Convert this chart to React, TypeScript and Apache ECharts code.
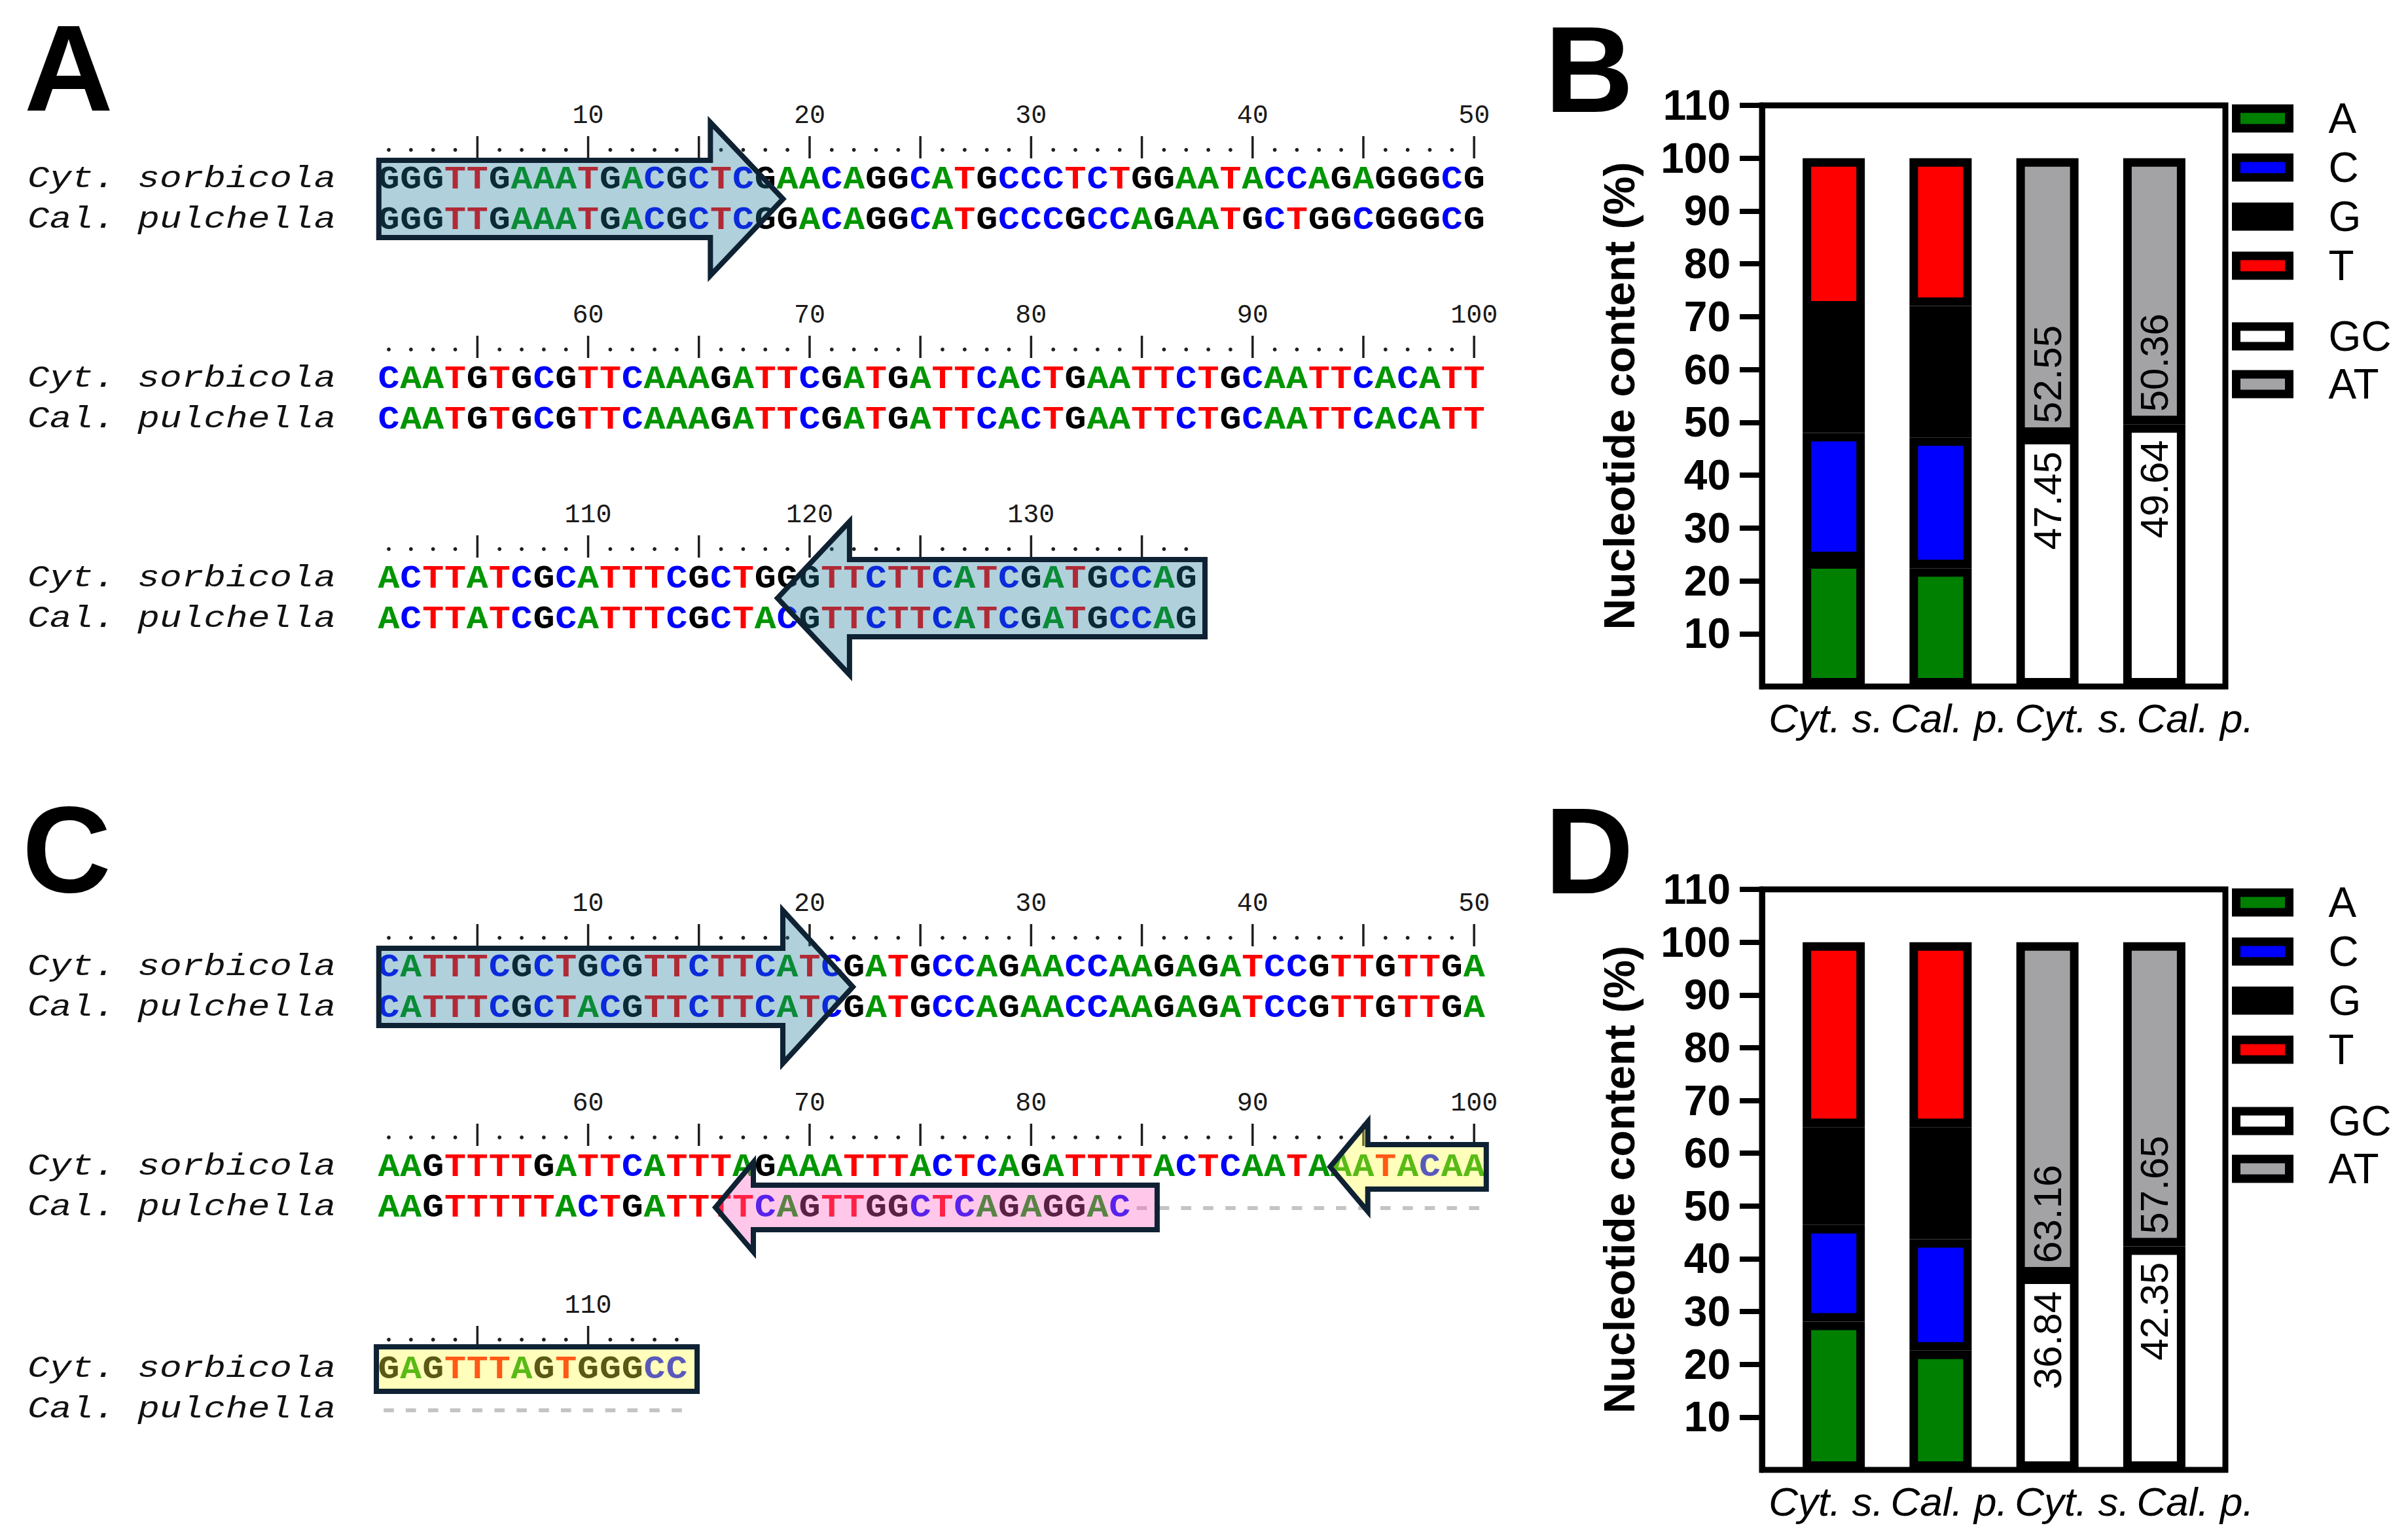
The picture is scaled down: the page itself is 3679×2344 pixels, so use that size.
import React, { useEffect, useRef } from "react";
import * as echarts from "echarts";

const WIDTH = 3679;
const HEIGHT = 2344;

// ---------- Panels A / C : sequence alignments (one string per block of 50 columns) ----------
const A_CYT = [
  "GGGTTGAAATGACGCTCGAACAGGCATGCCCTCTGGAATACCAGAGGGCG",
  "CAATGTGCGTTCAAAGATTCGATGATTCACTGAATTCTGCAATTCACATT",
  "ACTTATCGCATTTCGCTGGGTTCTTCATCGATGCCAG",
];
const A_CAL = [
  "GGGTTGAAATGACGCTCGGACAGGCATGCCCGCCAGAATGCTGGCGGGCG",
  "CAATGTGCGTTCAAAGATTCGATGATTCACTGAATTCTGCAATTCACATT",
  "ACTTATCGCATTTCGCTACGTTCTTCATCGATGCCAG",
];
const C_CYT = [
  "CATTTCGCTGCGTTCTTCATCGATGCCAGAACCAAGAGATCCGTTGTTGA",
  "AAGTTTTGATTCATTTAGAAATTTACTCAGATTTTACTCAATAAATACAA",
  "GAGTTTAGTGGGCC",
];
const C_CAL = [
  "CATTTCGCTACGTTCTTCATCGATGCCAGAACCAAGAGATCCGTTGTTGA",
  "AAGTTTTTACTGATTTTCAGTTGGCTCAGAGGAC----------------",
  "--------------",
];
const SPECIES = ["Cyt. sorbicola", "Cal. pulchella"];

// ---------- Panels B / D : nucleotide content (%) ----------
const CATEGORIES = ["Cyt. s.", "Cal. p.", "Cyt. s.", "Cal. p."];
const NUCLEOTIDES = ["A", "C", "G", "T"];
const GROUPS = ["GC", "AT"];
const B_A = [23.9, 22.4];
const B_C = [24.1, 24.75];
const B_G = [23.35, 24.89];
const B_T = [28.65, 27.96];
const B_GC = [47.45, 49.64];
const B_AT = [52.55, 50.36];
const D_A = [28.1, 22.6];
const D_C = [18.3, 21.1];
const D_G = [18.54, 21.25];
const D_T = [35.06, 35.05];
const D_GC = [36.84, 42.35];
const D_AT = [63.16, 57.65];
const Y_TICKS = [10, 20, 30, 40, 50, 60, 70, 80, 90, 100, 110];

// ---------- styling ----------
const SANS = '"Liberation Sans", Arial, Helvetica, sans-serif';
const MONO = '"Liberation Mono", "Courier New", monospace';
const NUC_COLORS: Record<string, string> = {
  A: "#009600",
  C: "#0000ff",
  G: "#000000",
  T: "#ff0000",
  "-": "#c4c4c4",
};
const BAR_COLORS: Record<string, string> = {
  A: "#008000",
  C: "#0000ff",
  G: "#000000",
  T: "#ff0000",
  GC: "#ffffff",
  AT: "#a3a3a6",
};
const BLUE_FILL = "rgba(29,121,155,0.35)";
const YELLOW_FILL = "rgba(255,255,60,0.35)";
const PINK_FILL = "rgba(255,98,197,0.35)";

// layout of the alignment panels
const SEQ_X0 = 594;
const SEQ_DX = 33.84;
const ROW_OFFSETS = [98, 160];
const A_BLOCK_Y = [177, 482, 787];
const C_BLOCK_Y = [1381, 1686, 1995];
const colX = (i: number) => SEQ_X0 + i * SEQ_DX;
const edgeX = (u: number) => SEQ_X0 - SEQ_DX / 2 + u * SEQ_DX;

type Highlight = { block: number; rows: string; from: number; to: number; tip: number | null; fill: string };
const A_HIGHLIGHTS: Highlight[] = [
  { block: 0, rows: "both", from: 0.05, to: 15.02, tip: 18.3, fill: BLUE_FILL },
  { block: 2, rows: "both", from: 21.3, to: 37.35, tip: 18.05, fill: BLUE_FILL },
];
const C_HIGHLIGHTS: Highlight[] = [
  { block: 0, rows: "both", from: 0.05, to: 18.29, tip: 21.45, fill: BLUE_FILL },
  { block: 1, rows: "cyt", from: 44.7, to: 50.05, tip: 43.0, fill: YELLOW_FILL },
  { block: 1, rows: "cal", from: 16.96, to: 35.19, tip: 15.25, fill: PINK_FILL },
  { block: 2, rows: "cyt", from: -0.06, to: 14.42, tip: null, fill: YELLOW_FILL },
];

function textEl(text: string, x: number, y: number, font: string, fill: string, align: string, extra: any = {}) {
  return {
    type: "text",
    x,
    y,
    z: 10,
    silent: true,
    ...extra,
    style: {
      text,
      font,
      fill,
      align,
      verticalAlign: "middle",
      textAlign: align,
      textVerticalAlign: "middle",
    },
  };
}

function alignmentGraphics(cyt: string[], cal: string[], blockY: number[], highlights: Highlight[]) {
  const els: any[] = [];
  let start = 1;
  blockY.forEach((B, bi) => {
    const rows = [cyt[bi], cal[bi]];
    const n = rows[0].length;
    for (let i = 0; i < n; i++) {
      const pos = start + i;
      const x = colX(i);
      if (pos % 5 === 0) {
        els.push({
          type: "line",
          z: 10,
          silent: true,
          shape: { x1: x, y1: B + 31, x2: x, y2: B + 65 },
          style: { stroke: "#1e1e1e", lineWidth: 3.5 },
        });
      } else {
        els.push({
          type: "circle",
          z: 10,
          silent: true,
          shape: { cx: x, cy: B + 52, r: 2.9 },
          style: { fill: "#1e1e1e" },
        });
      }
      if (pos % 10 === 0) els.push(textEl(String(pos), x, B, `40px ${MONO}`, "#1a1a1a", "center"));
    }
    rows.forEach((seq, ri) => {
      const y = B + ROW_OFFSETS[ri];
      els.push(textEl(SPECIES[ri], 42, y - 2, `italic 46px ${MONO}`, "#111", "left", { scaleX: 1.22 }));
      for (let i = 0; i < seq.length; i++) {
        const ch = seq[i];
        els.push(textEl(ch, colX(i), y, `bold 50px ${MONO}`, NUC_COLORS[ch] || "#000", "center", { scaleX: 1.1 }));
      }
    });
    start += n;
  });
  highlights.forEach((h) => {
    const B = blockY[h.block];
    let top: number, bot: number, headTop: number, headBot: number, cy: number;
    if (h.rows === "both") {
      top = B + 68;
      bot = B + 186;
      headTop = B + 10;
      headBot = B + 244;
      cy = B + 127;
    } else {
      const ry = B + ROW_OFFSETS[h.rows === "cyt" ? 0 : 1];
      top = ry - 35;
      bot = ry + 33;
      headTop = ry - 70;
      headBot = ry + 67;
      cy = ry - 1;
    }
    const L = edgeX(h.from);
    const R = edgeX(h.to);
    let pts: number[][];
    if (h.tip == null) {
      pts = [[L, top], [R, top], [R, bot], [L, bot]];
    } else if (h.tip > h.to) {
      const T = edgeX(h.tip);
      pts = [[L, top], [R, top], [R, headTop], [T, cy], [R, headBot], [R, bot], [L, bot]];
    } else {
      const T = edgeX(h.tip);
      pts = [[R, top], [L, top], [L, headTop], [T, cy], [L, headBot], [L, bot], [R, bot]];
    }
    els.push({
      type: "polygon",
      z: 20,
      silent: true,
      shape: { points: pts },
      style: { fill: h.fill, stroke: "#0f2233", lineWidth: 8, lineJoin: "miter" },
    });
  });
  return els;
}

// ---------- bar panels ----------
const FRAME_LEFT = 2692;
const FRAME_RIGHT = 3400;
const BAR_GRID_LEFT = 2720;
const BAR_GRID_WIDTH = 653;
const LABEL_GRID_LEFT = 2696;
const LABEL_GRID_WIDTH = 752;
const LEGEND_LEFT = 3410;

const BAR_PANELS = [
  {
    top: 161,
    height: 888,
    legendTop: [149, 482],
    values: { A: B_A, C: B_C, G: B_G, T: B_T, GC: B_GC, AT: B_AT } as Record<string, number[]>,
  },
  {
    top: 1359,
    height: 887,
    legendTop: [1347, 1681],
    values: { A: D_A, C: D_C, G: D_G, T: D_T, GC: D_GC, AT: D_AT } as Record<string, number[]>,
  },
];

function buildOption() {
  const grid: any[] = [];
  const xAxis: any[] = [];
  const yAxis: any[] = [];
  const series: any[] = [];
  const legend: any[] = [];
  const graphicEls: any[] = [];

  BAR_PANELS.forEach((p, k) => {
    const gBar = 2 * k;
    const gLab = 2 * k + 1;
    grid.push({ left: BAR_GRID_LEFT, top: p.top, width: BAR_GRID_WIDTH, height: p.height });
    grid.push({ left: LABEL_GRID_LEFT, top: p.top, width: LABEL_GRID_WIDTH, height: p.height });
    xAxis.push({
      type: "category",
      gridIndex: gBar,
      data: CATEGORIES,
      axisLine: { show: false },
      axisTick: { show: false },
      axisLabel: { show: false },
    });
    xAxis.push({
      type: "category",
      gridIndex: gLab,
      data: CATEGORIES,
      axisLine: { show: false },
      axisTick: { show: false },
      axisLabel: {
        interval: 0,
        hideOverlap: false,
        fontSize: 62,
        fontStyle: "italic",
        fontFamily: SANS,
        color: "#000",
        margin: 17,
        lineHeight: 62,
      },
    });
    yAxis.push({
      type: "value",
      gridIndex: gBar,
      min: 0,
      max: 110,
      interval: 10,
      offset: BAR_GRID_LEFT - FRAME_LEFT,
      axisLine: { show: true, lineStyle: { color: "#000", width: 9 } },
      axisTick: { show: true, inside: false, length: 34, lineStyle: { color: "#000", width: 8 }, customValues: Y_TICKS },
      axisLabel: {
        customValues: Y_TICKS,
        margin: 48,
        fontSize: 64,
        fontWeight: "bold",
        fontFamily: SANS,
        color: "#000",
      },
      splitLine: { show: false },
      name: "Nucleotide content (%)",
      nameLocation: "middle",
      nameRotate: 90,
      nameGap: 185,
      nameTextStyle: { fontSize: 66, fontWeight: "bold", fontFamily: SANS, color: "#000" },
    });
    yAxis.push({ type: "value", gridIndex: gLab, min: 0, max: 110, show: false });

    const stack = "stack" + k;
    NUCLEOTIDES.forEach((n) => {
      series.push({
        type: "bar",
        name: n,
        xAxisIndex: gBar,
        yAxisIndex: gBar,
        stack,
        barWidth: 95,
        data: [p.values[n][0], p.values[n][1], "-", "-"],
        itemStyle: { color: BAR_COLORS[n], borderColor: "#000", borderWidth: 13 },
      });
    });
    GROUPS.forEach((g, gi) => {
      series.push({
        type: "bar",
        name: g,
        xAxisIndex: gBar,
        yAxisIndex: gBar,
        stack,
        barWidth: 95,
        data: ["-", "-", p.values[g][0], p.values[g][1]],
        itemStyle: { color: BAR_COLORS[g], borderColor: "#000", borderWidth: 13 },
        label: {
          show: true,
          rotate: 90,
          position: gi === 0 ? "insideTop" : "insideBottom",
          distance: gi === 0 ? 24 : 19,
          align: gi === 0 ? "right" : "left",
          verticalAlign: "middle",
          fontSize: 60,
          fontFamily: SANS,
          color: "#000",
          formatter: (prm: any) => Number(prm.value).toFixed(2),
        },
      });
    });

    const legendBase = {
      orient: "vertical",
      left: LEGEND_LEFT,
      padding: 0,
      itemWidth: 81,
      itemHeight: 30,
      icon: "rect",
      selectedMode: false,
      itemStyle: { borderColor: "#000", borderWidth: 13 },
      textStyle: { fontSize: 64, lineHeight: 64, fontFamily: SANS, color: "#000", padding: [0, 0, 0, 55] },
    };
    legend.push({ ...legendBase, top: p.legendTop[0], itemGap: 11, data: NUCLEOTIDES });
    legend.push({ ...legendBase, top: p.legendTop[1], itemGap: 9, data: GROUPS });

    graphicEls.push({
      type: "rect",
      z: 100,
      silent: true,
      shape: { x: FRAME_LEFT, y: p.top, width: FRAME_RIGHT - FRAME_LEFT, height: p.height },
      style: { fill: "none", stroke: "#000", lineWidth: 9 },
    });
  });

  // panel letters
  const letterFont = `bold 188px ${SANS}`;
  graphicEls.push(textEl("A", 105, 104, letterFont, "#000", "center"));
  graphicEls.push(textEl("B", 2428, 106, letterFont, "#000", "center"));
  graphicEls.push(textEl("C", 102, 1298, letterFont, "#000", "center"));
  graphicEls.push(textEl("D", 2428, 1300, letterFont, "#000", "center"));

  graphicEls.push(...alignmentGraphics(A_CYT, A_CAL, A_BLOCK_Y, A_HIGHLIGHTS));
  graphicEls.push(...alignmentGraphics(C_CYT, C_CAL, C_BLOCK_Y, C_HIGHLIGHTS));

  return {
    animation: false,
    backgroundColor: "#ffffff",
    grid,
    xAxis,
    yAxis,
    legend,
    series,
    graphic: { elements: graphicEls },
  };
}

export default function App() {
  const ref = useRef<HTMLDivElement>(null);
  useEffect(() => {
    document.body.style.margin = "0";
    if (!ref.current) return;
    const chart = echarts.init(ref.current, null, { renderer: "svg" });
    chart.setOption(buildOption() as any);
    return () => chart.dispose();
  }, []);
  return <div ref={ref} style={{ width: WIDTH, height: HEIGHT, background: "#fff" }} />;
}
